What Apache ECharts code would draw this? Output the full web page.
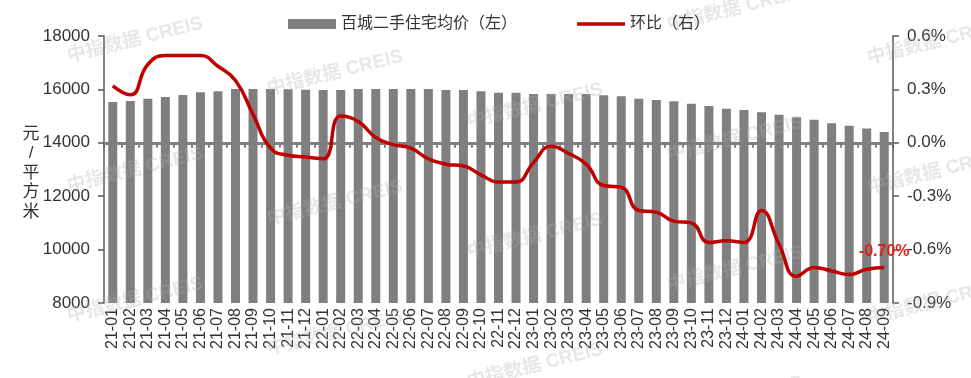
<!DOCTYPE html>
<html>
<head>
<meta charset="utf-8">
<script src="https://cdn.jsdelivr.net/npm/echarts@6/dist/echarts.min.js"></script>
<style>
html,body{margin:0;padding:0;background:#fff;}
#chart{width:971px;height:378px;}
</style>
</head>
<body>
<div id="chart"></div>
<script>
const categories = ['21-01','21-02','21-03','21-04','21-05','21-06','21-07','21-08','21-09','21-10','21-11','21-12',
  '22-01','22-02','22-03','22-04','22-05','22-06','22-07','22-08','22-09','22-10','22-11','22-12',
  '23-01','23-02','23-03','23-04','23-05','23-06','23-07','23-08','23-09','23-10','23-11','23-12',
  '24-01','24-02','24-03','24-04','24-05','24-06','24-07','24-08','24-09'];
const priceValues = [15528,15566,15652,15715,15790,15890,15928,16015,16015,16015,16003,15990,
  15978,15978,16015,16015,16015,16015,16015,15978,15978,15928,15877,15877,
  15828,15828,15828,15828,15778,15745,15652,15603,15553,15465,15378,15278,
  15228,15140,15053,14953,14865,14728,14640,14540,14407];
const momValues = [0.32,0.27,0.44,0.49,0.49,0.49,0.43,0.35,0.16,-0.03,-0.07,-0.08,
  -0.09,0.15,0.12,0.03,-0.01,-0.03,-0.09,-0.12,-0.13,-0.18,-0.22,-0.22,
  -0.11,-0.02,-0.06,-0.12,-0.24,-0.25,-0.38,-0.39,-0.44,-0.45,-0.56,-0.55,
  -0.56,-0.38,-0.57,-0.75,-0.70,-0.72,-0.74,-0.71,-0.70];
const leftTicks = {min: 8000, max: 18000, interval: 2000};
const rightTicks = {min: -0.9, max: 0.6, interval: 0.3};
const barName = '百城二手住宅均价（左）';
const lineName = '环比（右）';
const lastLabel = '-0.70%';

const FONT = '"Liberation Sans", Arial, "Noto Sans CJK SC", sans-serif';
const chart = echarts.init(document.getElementById('chart'));

const wm = [];
for (let j = -1; j <= 2; j++) {
  for (let i = 0; i < 5; i++) {
    const cx = 135 + 200 * i;
    const cy = 40 + 33 * i + 130 * j;
    if (cy < -20 || cy > 400) continue;
    wm.push({
      type: 'text', x: cx, y: cy, rotation: 14 * Math.PI / 180, z: 3, silent: true,
      style: {text: '中指数据 CREIS', fill: 'rgba(175,175,175,0.3)', font: 'bold 19px ' + FONT,
        align: 'center', verticalAlign: 'middle'}
    });
  }
}
wm.push({
  type: 'text', x: 31, y: 173, z: 10,
  style: {text: '元\n/\n平\n方\n米', fill: '#333', font: '17px ' + FONT, lineHeight: 19.5,
    align: 'center', verticalAlign: 'middle'}
});

const axisCommon = {
  axisLine: {show: true, lineStyle: {color: '#595959', width: 1.5}},
  axisTick: {show: true, inside: false, length: 6, lineStyle: {color: '#595959', width: 1.5}},
  splitLine: {show: false},
  axisLabel: {color: '#333', fontSize: 17, fontFamily: FONT, margin: 14}
};

const lastIdx = momValues.length - 1;

chart.setOption({
  animation: false,
  backgroundColor: '#fff',
  textStyle: {fontFamily: FONT},
  graphic: {elements: wm},
  legend: {
    left: 283, top: 11, itemWidth: 48, itemHeight: 10, itemGap: 60,
    textStyle: {fontSize: 16, color: '#333', fontFamily: FONT},
    data: [{name: barName, icon: 'rect'},
      {name: lineName, icon: 'path://M0,0 L48,0 L48,3.5 L0,3.5 Z', itemStyle: {color: '#c00000'}}]
  },
  grid: {left: 104, right: 78, top: 36, bottom: 75},
  xAxis: {
    type: 'category', data: categories, boundaryGap: true,
    axisLine: {show: true, lineStyle: {color: '#595959', width: 1.5}},
    axisTick: {show: true, alignWithLabel: false, length: 5, lineStyle: {color: '#595959', width: 1.5}},
    axisLabel: {rotate: 90, interval: 0, fontSize: 16, color: '#333', fontFamily: FONT, margin: 5}
  },
  yAxis: [
    Object.assign({}, axisCommon, {type: 'value', position: 'left', min: leftTicks.min, max: leftTicks.max, interval: leftTicks.interval,
      axisLabel: Object.assign({}, axisCommon.axisLabel, {formatter: v => String(v)})}),
    Object.assign({}, axisCommon, {type: 'value', position: 'right', min: rightTicks.min, max: rightTicks.max, interval: rightTicks.interval,
      axisLabel: Object.assign({}, axisCommon.axisLabel, {formatter: v => v.toFixed(1) + '%'})})
  ],
  series: [
    {
      name: barName, type: 'bar', yAxisIndex: 0, data: priceValues, barWidth: 9, z: 2,
      itemStyle: {color: '#7f7f7f'},
      markLine: {
        silent: true, symbol: 'none', label: {show: false},
        lineStyle: {color: '#7f7f7f', width: 3, type: 'solid'},
        data: [{yAxis: 14000}]
      }
    },
    {
      name: lineName, type: 'line', yAxisIndex: 1, smooth: true, symbol: 'none', z: 5,
      lineStyle: {color: '#c00000', width: 3.5}, itemStyle: {color: '#c00000'},
      data: momValues,
      markPoint: {
        silent: true, symbol: 'circle', symbolSize: 1,
        itemStyle: {color: 'rgba(0,0,0,0)'},
        label: {show: true, position: 'top', distance: 7, formatter: lastLabel,
          color: '#e0201b', fontSize: 16, fontWeight: 'bold', fontFamily: FONT},
        data: [{coord: [lastIdx, momValues[lastIdx]]}]
      }
    }
  ]
});
</script>
</body>
</html>
